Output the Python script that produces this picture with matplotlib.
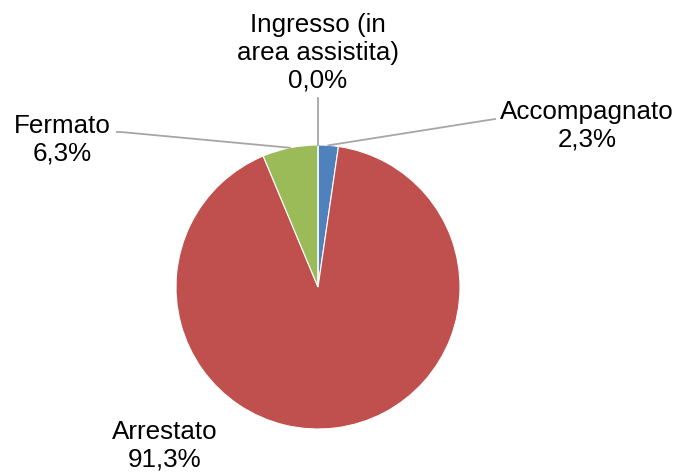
import numpy as np
from matplotlib import pyplot as plt

# data
categories = ["Accompagnato", "Arrestato", "Fermato", "Ingresso (in\narea assistita)"]
shares = [2.3, 91.3, 6.3, 0.0]
colors = ["#4F81BD", "#C0504D", "#9BBB59", "#8064A2"]

plt.rcParams["font.family"] = ["Liberation Sans", "DejaVu Sans"]

W, H = 682, 472
fig = plt.figure(figsize=(W / 100, H / 100), dpi=100)
ax = fig.add_axes([0, 0, 1, 1])

cx, cy, r = 318, H - 287, 142
ax.pie(
    shares,
    colors=colors,
    startangle=90,
    counterclock=False,
    center=(cx, cy),
    radius=r,
    wedgeprops={"edgecolor": "white", "linewidth": 0.8},
    frame=True,
)
ax.set_xlim(0, W)
ax.set_ylim(0, H)
ax.set_aspect("equal")
ax.axis("off")

# label placement (pixel coords, top-left origin) and leader start points
label_pos = [(587, 126), (165, 446), (62, 140), (318, 53)]
leader_start = [(495, 119), None, (117, 132), (318, 98)]

cum = np.cumsum([0] + shares)
total = sum(shares)
for i, (name, val) in enumerate(zip(categories, shares)):
    lx, ly = label_pos[i]
    txt = f"{name}\n{val:.1f}%".replace(".", ",")
    ax.text(lx, H - ly, txt, ha="center", va="center", fontsize=18.7,
            linespacing=1.2, color="black")
    if leader_start[i] is not None:
        mid = (cum[i] + cum[i + 1]) / 2 / total
        ang = np.deg2rad(90 - mid * 360)
        ex, ey = cx + r * np.cos(ang), cy + r * np.sin(ang)
        sx, sy = leader_start[i]
        if i == 2:
            xs = [sx, sx + 4, ex]
            ys = [H - sy, H - sy, ey]
        else:
            xs = [sx, ex]
            ys = [H - sy, ey]
        ax.plot(xs, ys, color="#A6A6A6", lw=1.3, zorder=5)

plt.savefig("out.png", dpi=100)
